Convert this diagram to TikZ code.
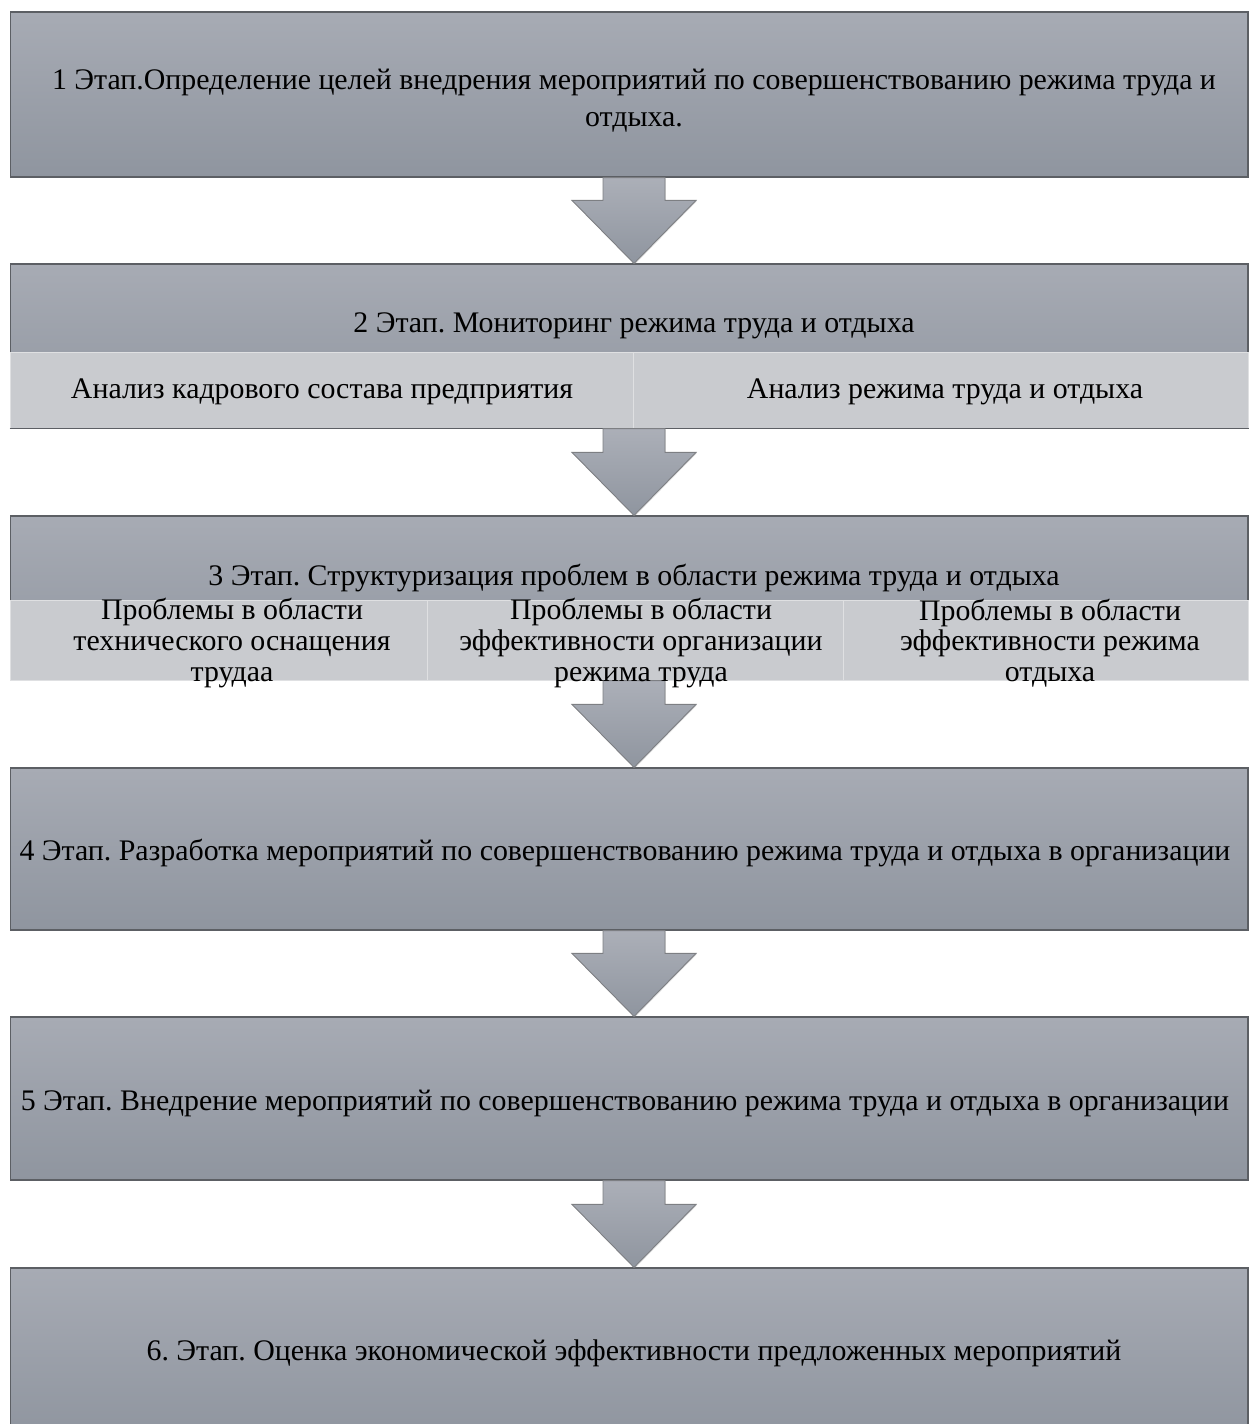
\documentclass[tikz,border=0pt]{standalone}
\usepackage{fontspec}
\setmainfont{Liberation Serif}
\usetikzlibrary{positioning,calc,shadows}
\frenchspacing

\definecolor{stagetop}{HTML}{A7ABB4}
\definecolor{stagebot}{HTML}{8F959F}
\definecolor{bandgray}{HTML}{C9CBCF}
\definecolor{edgegray}{HTML}{5C5F64}

\tikzset{
  stagebox/.style={rectangle, draw=edgegray, line width=0.7pt, top color=stagetop, bottom color=stagebot,
    minimum width=24.76cm, inner sep=0pt},
  bandcell/.style={rectangle, fill=bandgray, draw=bandgray!60!white, line width=0.4pt, inner sep=0pt,
    minimum height=1.52cm},
  stagetext/.style={font=\fontsize{17}{21}\selectfont, align=center, inner sep=0pt},
  celltext/.style={font=\fontsize{17}{17.5}\selectfont, align=center, inner sep=0pt},
  blockarrow/.style={draw=edgegray!80, line width=0.5pt, top color=stagetop!95!white, bottom color=stagebot,
    drop shadow={shadow xshift=0.5pt, shadow yshift=-0.5pt, opacity=0.25}}
}

% stage arrow: shaft from the lower box, head ends on the next box
\newcommand{\stagearrow}[2]{%
  \path[blockarrow] ($(#1.south)+(-26,0)$) -- ($(#2.north)+(-26,-63)$) -- ($(#2.north)+(-57,-63)$)
    -- ($(#2.north)+(5,0)$) -- ($(#2.north)+(67,-63)$) -- ($(#2.north)+(36,-63)$)
    -- ($(#1.south)+(36,0)$) -- cycle;}

\begin{document}
\begin{tikzpicture}[x=0.02cm, y=-0.02cm]
  \useasboundingbox (0,0) rectangle (1249,1424);
  \clip (0,0) rectangle (1249,1424);

  % stage boxes
  \node[stagebox, minimum height=3.3cm] (s1) at (629,94.5) {};
  \node[stagebox, minimum height=3.28cm] (s2) at (629,346) {};
  \node[stagebox, minimum height=3.28cm] (s3) at (629,598) {};
  \node[stagebox, minimum height=3.24cm] (s4) at (629,849) {};
  \node[stagebox, minimum height=3.26cm] (s5) at (629,1098.5) {};
  \node[stagebox, minimum height=3.4cm] (s6) at (629,1353) {};

  % light bands inside stages 2 and 3
  \node[bandcell, minimum width=12.46cm] (b21) at (321.5,390) {};
  \node[bandcell, minimum width=12.30cm] (b22) at (940.5,390) {};
  \node[bandcell, minimum width=8.34cm, minimum height=1.6cm] (b31) at (218.5,640) {};
  \node[bandcell, minimum width=8.32cm, minimum height=1.6cm] (b32) at (635,640) {};
  \node[bandcell, minimum width=8.10cm, minimum height=1.6cm] (b33) at (1045.5,640) {};
  \draw[edgegray, line width=0.7pt] (s2.south west) -- (s2.south east);

  % arrows between stages
  \stagearrow{s1}{s2}
  \stagearrow{s2}{s3}
  \stagearrow{s3}{s4}
  \stagearrow{s4}{s5}
  \stagearrow{s5}{s6}

  % texts
  \node[stagetext] (t1) at (634,101) {1 Этап.Определение целей внедрения мероприятий по совершенствованию режима труда и\\отдыха.};
  \node[stagetext] (t2) at (634,326) {2 Этап. Мониторинг режима труда и отдыха};
  \node[stagetext] (t21) at (322,392) {Анализ кадрового состава предприятия};
  \node[stagetext] (t22) at (945,392) {Анализ режима труда и отдыха};
  \node[stagetext] (t3) at (634,578) {3 Этап. Структуризация проблем в области режима труда и отдыха};
  \node[celltext] (t31) at (232,643) {Проблемы в области\\технического оснащения\\трудаа};
  \node[celltext] (t32) at (641,643) {Проблемы в области\\эффективности организации\\режима труда};
  \node[celltext] (t33) at (1050,643) {Проблемы в области\\эффективности режима\\отдыха};
  \node[stagetext] (t4) at (625,853) {4 Этап. Разработка мероприятий по совершенствованию режима труда и отдыха в организации};
  \node[stagetext] (t5) at (625,1103) {5 Этап. Внедрение мероприятий по совершенствованию режима труда и отдыха в организации};
  \node[stagetext] (t6) at (634,1353) {6. Этап. Оценка экономической эффективности предложенных мероприятий};
\end{tikzpicture}
\end{document}
